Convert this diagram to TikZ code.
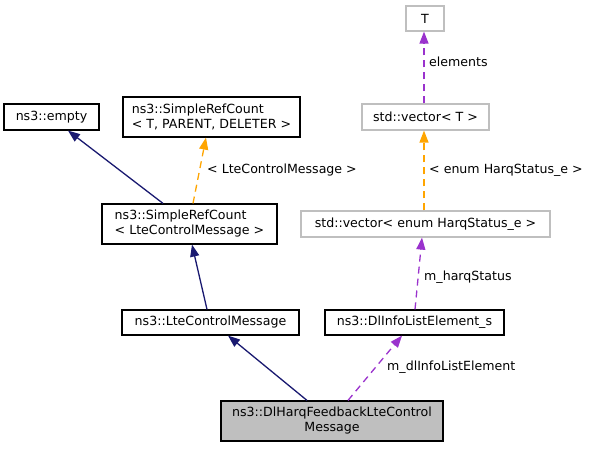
\documentclass[tikz,border=0pt]{standalone}
\usepackage{fontspec}
\setmainfont{DejaVu Sans}
\usepackage{tikz}
\usetikzlibrary{arrows.meta}
\tikzset{>={Triangle[length=12pt,width=9pt]}}
\definecolor{inhcol}{HTML}{191970}
\definecolor{tplcol}{HTML}{FFA500}
\definecolor{usecol}{HTML}{9A32CD}
\tikzset{cls/.style={draw=black,line width=1.2pt,inner sep=0pt,align=left,font=\fontsize{12.6}{15}\selectfont}}
\tikzset{ext/.style={cls,draw=black!25}}
\tikzset{cur/.style={cls,fill=black!25,align=center}}
\tikzset{lbl/.style={anchor=west,inner sep=0pt,font=\fontsize{12.6}{15}\selectfont}}
\tikzset{inh/.style={->,inhcol,line width=1.3pt}}
\tikzset{tpl/.style={->,tplcol,line width=1.3pt,dash pattern=on 7pt off 5pt}}
\tikzset{use/.style={->,usecol,line width=1.3pt,dash pattern=on 7pt off 5pt}}

\begin{document}
\begin{tikzpicture}[x=1pt,y=-1pt]
                    \useasboundingbox (0,0) rectangle (595,448);
                    \node[cls,minimum width=95pt,minimum height=26pt] (E) at (51.5,117) {ns3::empty};
                    \node[cls,minimum width=177pt,minimum height=40pt] (ST) at (211.5,117) {ns3::SimpleRefCount\\< T, PARENT, DELETER >};
                    \node[cls,minimum width=175pt,minimum height=40pt] (SL) at (189.5,224) {ns3::SimpleRefCount\\< LteControlMessage >};
                    \node[ext,minimum width=38pt,minimum height=25pt] (T) at (425,18.5) {T};
                    \node[ext,minimum width=127pt,minimum height=26pt] (VT) at (425.5,117) {std::vector< T >};
                    \node[ext,minimum width=249pt,minimum height=26pt] (VE) at (425.5,224) {std::vector< enum HarqStatus\_e >};
                    \node[cls,minimum width=177pt,minimum height=25pt] (L) at (210.5,322.5) {ns3::LteControlMessage};
                    \node[cls,minimum width=179pt,minimum height=25pt] (D) at (414.5,322.5) {ns3::DlInfoListElement\_s};
                    \node[cur,minimum width=222pt,minimum height=40pt] (H) at (332,421) {ns3::DlHarqFeedbackLteControl\\Message};

                    \draw[inh] ([xshift=-26.5pt]SL.north) -- ([xshift=16.5pt]E.south);
                    \draw[tpl] ([xshift=3.5pt]SL.north) -- ([xshift=-5.5pt]ST.south);
                    \draw[inh] ([xshift=-3.5pt]L.north) -- ([xshift=2.5pt]SL.south);
                    \draw[inh] ([xshift=-25pt]H.north) -- ([xshift=17.5pt]L.south);
                    \draw[use] ([xshift=16pt]H.north) -- ([xshift=-12.5pt]D.south);
                    \draw[use] ([xshift=0.5pt]D.north) -- ([xshift=-3.5pt]VE.south);
                    \draw[tpl] ([xshift=-1.5pt]VE.north) -- ([xshift=-1.5pt]VT.south);
                    \draw[use] ([xshift=-1.5pt]VT.north) -- ([xshift=-1pt]T.south);

                    \node[lbl] (l1) at (207,170) {< LteControlMessage >};
                    \node[lbl] (l2) at (429,62) {elements};
                    \node[lbl] (l3) at (429,170) {< enum HarqStatus\_e >};
                    \node[lbl] (l4) at (424,277) {m\_harqStatus};
                    \node[lbl] (l5) at (387,367) {m\_dlInfoListElement};
                \end{tikzpicture}
\end{document}
